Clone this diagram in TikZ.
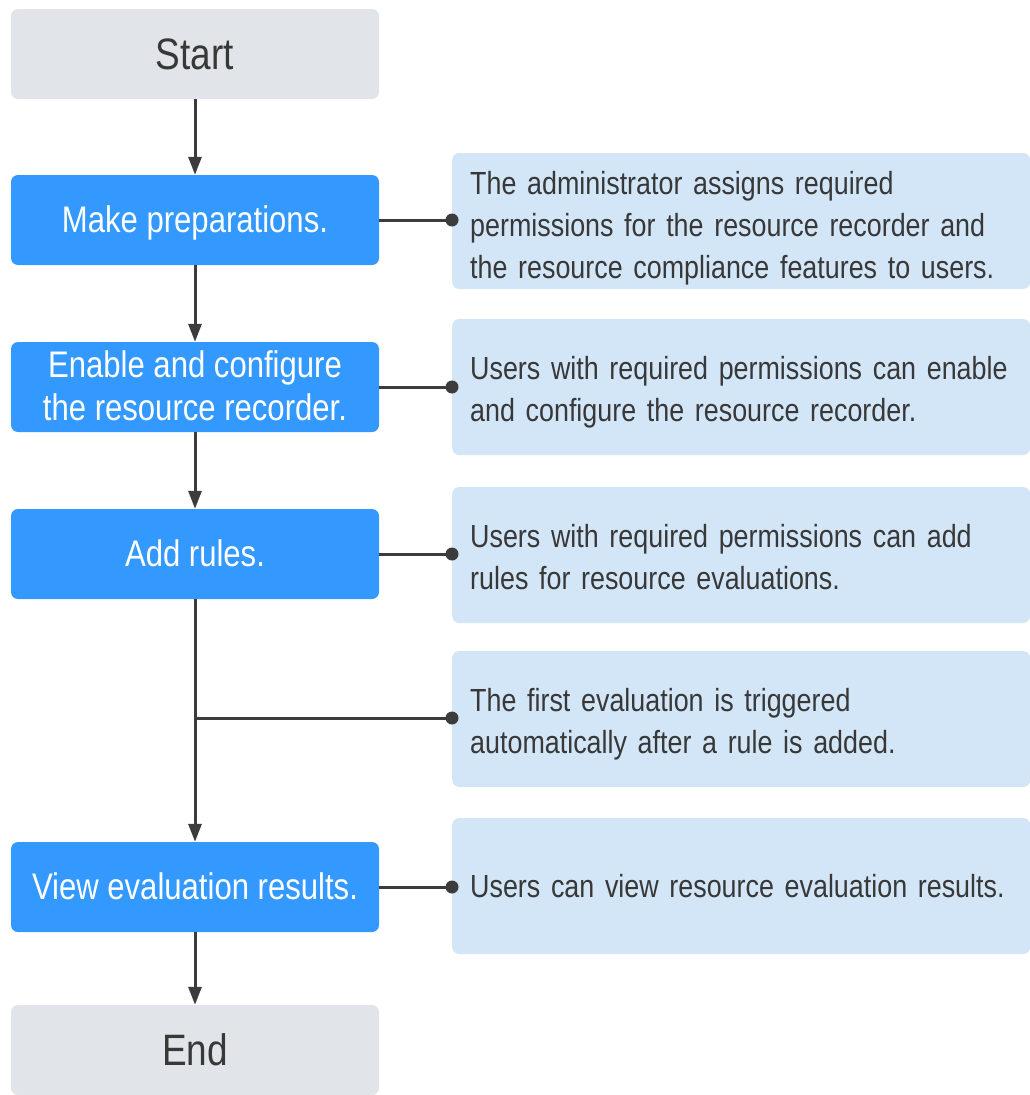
\documentclass[tikz,border=0pt]{standalone}
\usepackage{fontspec}
\setmainfont{Liberation Sans}
\newfontfamily\narrowfont[FakeStretch=0.84]{Liberation Sans}
\usepackage{xcolor}
\usetikzlibrary{arrows.meta}
\definecolor{stepblue}{HTML}{3399FF}
\definecolor{endgray}{HTML}{E1E4E8}
\definecolor{noteblue}{HTML}{D3E6F8}
\definecolor{linegray}{HTML}{3C3C3C}
\definecolor{textgray}{HTML}{383838}

\begin{document}
\begin{tikzpicture}[
  x=1pt, y=-1pt,
  >={Triangle[length=18pt, width=13pt]},
  terminal/.style={rectangle, rounded corners=7pt, fill=endgray, minimum width=368pt,
    minimum height=90pt, text=textgray, inner sep=0pt,
    font=\narrowfont\fontsize{44pt}{50pt}\selectfont},
  stepbox/.style={rectangle, rounded corners=7pt, fill=stepblue, minimum width=368pt,
    minimum height=90pt, text=white, align=center, inner sep=0pt, text depth=2pt,
    font=\narrowfont\fontsize{37pt}{43pt}\selectfont},
  note/.style={rectangle, rounded corners=7pt, fill=noteblue, anchor=west,
    minimum height=136pt, text width=542pt, inner xsep=18pt, inner ysep=0pt,
    align=left, text=textgray,
    font=\narrowfont\fontsize{32pt}{42pt}\selectfont},
  twolines/.style={text depth=39pt},
  threelines/.style={text depth=77pt},
  link/.style={draw=linegray, line width=3pt},
  dot/.style={circle, fill=linegray, inner sep=0pt, minimum size=13pt}
]
  \useasboundingbox (0,0) rectangle (1030,1095);

  \node[terminal] (start) at (195, 54) {Start};
  \node[stepbox] (prep) at (195, 220) {Make preparations.};
  \node[stepbox] (enable) at (195, 387) {Enable and configure\\the resource recorder.};
  \node[stepbox] (rules) at (195, 554) {Add rules.};
  \node[stepbox] (view) at (195, 887) {View evaluation results.};
  \node[terminal] (end) at (195, 1050) {End};
  \coordinate (fork) at (195, 718);

  \node[note, threelines] (note1) at (452, 221) {The administrator assigns required\\
    permissions for the resource recorder and\\the resource compliance features to users.};
  \node[note, twolines] (note2) at (452, 387) {Users with required permissions can enable\\
    and configure the resource recorder.};
  \node[note, twolines] (note3) at (452, 555) {Users with required permissions can add\\
    rules for resource evaluations.};
  \node[note, twolines] (note4) at (452, 719) {The first evaluation is triggered\\
    automatically after a rule is added.};
  \node[note] (note5) at (452, 886) {Users can view resource evaluation results.};

  \draw[link, ->] (start) -- (prep);
  \draw[link, ->] (prep) -- (enable);
  \draw[link, ->] (enable) -- (rules);
  \draw[link, ->] (rules) -- (view);
  \draw[link, ->] (view) -- (end);

  \draw[link] (prep.east) -- (prep.east -| note1.west);
  \draw[link] (enable.east) -- (enable.east -| note2.west);
  \draw[link] (rules.east) -- (rules.east -| note3.west);
  \draw[link] (fork) -- (fork -| note4.west);
  \draw[link] (view.east) -- (view.east -| note5.west);

  \node[dot] (dot1) at (prep.east -| note1.west) {};
  \node[dot] (dot2) at (enable.east -| note2.west) {};
  \node[dot] (dot3) at (rules.east -| note3.west) {};
  \node[dot] (dot4) at (fork -| note4.west) {};
  \node[dot] (dot5) at (view.east -| note5.west) {};
\end{tikzpicture}
\end{document}
